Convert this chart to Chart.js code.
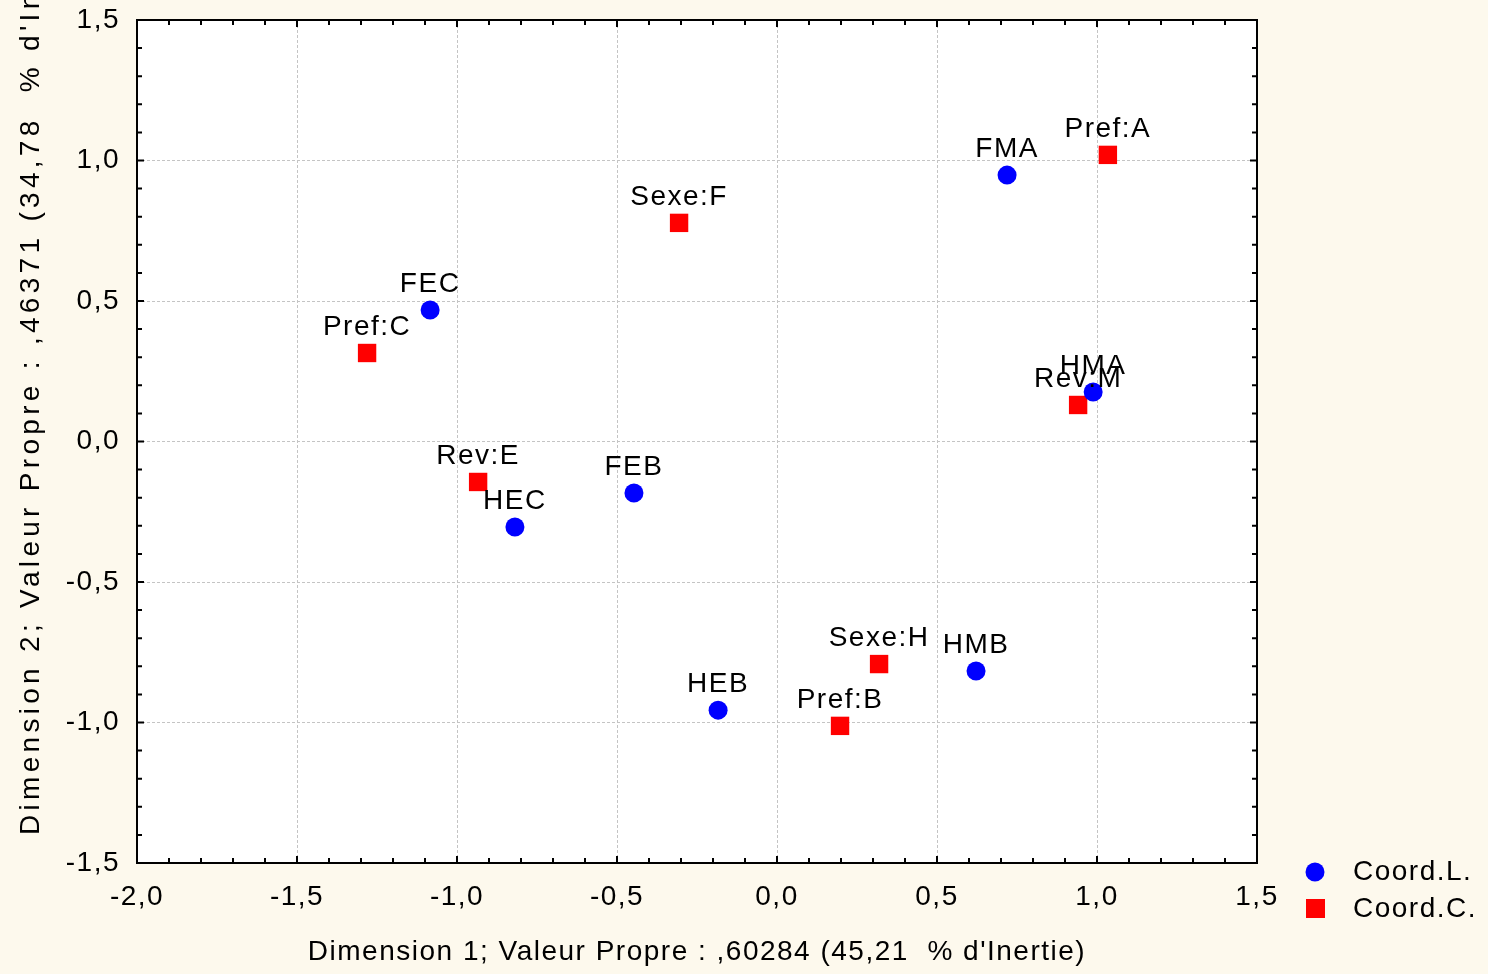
<!DOCTYPE html>
<html>
<head>
<meta charset="utf-8">
<script src="https://cdn.jsdelivr.net/npm/chart.js@4.4.0/dist/chart.umd.min.js"></script>
<style>
  html, body { margin: 0; padding: 0; background: #fdf9ed; }
</style>
</head>
<body>
<canvas id="grafico" width="1488" height="974"></canvas>
<script>
// Coord. lignes (ronds bleus)
const labelsL = ['FMA', 'FEC', 'HMA', 'FEB', 'HEC', 'HMB', 'HEB'];
const dim1L = [0.719, -1.084, 0.988, -0.447, -0.819, 0.622, -0.184];
const dim2L = [0.948, 0.468, 0.176, -0.183, -0.304, -0.817, -0.956];

// Coord. colonnes (carres rouges)
const labelsC = ['Pref:A', 'Sexe:F', 'Pref:C', 'Rev:M', 'Rev:E', 'Sexe:H', 'Pref:B'];
const dim1C = [1.034, -0.306, -1.281, 0.941, -0.934, 0.319, 0.197];
const dim2C = [1.020, 0.778, 0.315, 0.130, -0.144, -0.792, -1.012];

const ticksX = [-2.0, -1.5, -1.0, -0.5, 0.0, 0.5, 1.0, 1.5];
const ticksY = [-1.5, -1.0, -0.5, 0.0, 0.5, 1.0, 1.5];

const titreX = "Dimension 1; Valeur Propre : ,60284 (45,21  % d'Inertie)";
const titreY = "Dimension 2; Valeur Propre : ,46371 (34,78  % d'Inertie)";
const legende = ['Coord.L.', 'Coord.C.'];

const police = 'Liberation Sans, Arial, sans-serif';
Chart.defaults.font.family = police;
Chart.defaults.font.size = 28;
Chart.defaults.color = '#000';

function virgule(v) {
    return v.toFixed(1).replace('.', ',');
}

// fond blanc, cadre, petites graduations, etiquettes, titres, legende
const cadre = {
    id: 'cadre',
    beforeDraw(chart) {
        const ctx = chart.ctx;
        const a = chart.chartArea;
        ctx.save();
        ctx.fillStyle = '#fdf9ed';
        ctx.fillRect(0, 0, chart.width, chart.height);
        ctx.fillStyle = '#ffffff';
        ctx.fillRect(a.left, a.top, a.right - a.left, a.bottom - a.top);
        ctx.restore();
        // texte un peu espace, comme l'original
        ctx.letterSpacing = '1.5px';
    },
    afterDraw(chart) {
        const ctx = chart.ctx;
        const a = chart.chartArea;
        const sx = chart.scales.x;
        const sy = chart.scales.y;
        ctx.save();

        ctx.strokeStyle = '#000';
        ctx.lineWidth = 2;
        ctx.strokeRect(a.left, a.top, a.right - a.left, a.bottom - a.top);

        ctx.lineWidth = 2;
        ctx.beginPath();
        for (let i = -20; i <= 15; i++) {
            const px = sx.getPixelForValue(i / 10);
            const len = (i % 5 === 0) ? 7 : 5;
            ctx.moveTo(px, a.bottom); ctx.lineTo(px, a.bottom - len);
            ctx.moveTo(px, a.top); ctx.lineTo(px, a.top + len);
        }
        for (let j = -15; j <= 15; j++) {
            const py = sy.getPixelForValue(j / 10);
            const len = (j % 5 === 0) ? 7 : 5;
            ctx.moveTo(a.left, py); ctx.lineTo(a.left + len, py);
            ctx.moveTo(a.right, py); ctx.lineTo(a.right - len, py);
        }
        ctx.stroke();

        // etiquettes des points
        ctx.fillStyle = '#000';
        ctx.font = '28px ' + police;
        ctx.letterSpacing = '1.5px';
        ctx.textAlign = 'center';
        ctx.textBaseline = 'alphabetic';
        const noms = [labelsL, labelsC];
        chart.data.datasets.forEach((ds, k) => {
            chart.getDatasetMeta(k).data.forEach((pt, i) => {
                ctx.fillText(noms[k][i], pt.x, pt.y - 18);
            });
        });

        // titres des axes
        ctx.textAlign = 'center';
        ctx.textBaseline = 'middle';
        ctx.fillText(titreX, 697, 952);

        ctx.save();
        ctx.translate(31, 835);
        ctx.rotate(-Math.PI / 2);
        ctx.textAlign = 'left';
        ctx.letterSpacing = '4.3px';
        ctx.fillText(titreY, 0, 0);
        ctx.restore();

        // legende
        ctx.fillStyle = '#0000ff';
        ctx.beginPath();
        ctx.arc(1315, 872, 9.5, 0, Math.PI * 2);
        ctx.fill();
        ctx.fillStyle = '#ff0000';
        ctx.fillRect(1306, 899, 19, 19);
        ctx.fillStyle = '#000';
        ctx.textAlign = 'left';
        ctx.fillText(legende[0], 1353, 872);
        ctx.fillText(legende[1], 1353, 909);

        ctx.restore();
    }
};

const data = {
    datasets: [
        {
            label: legende[0],
            data: dim1L.map((x, i) => ({ x: x, y: dim2L[i] })),
            pointStyle: 'circle',
            pointRadius: 9.5,
            backgroundColor: '#0000ff',
            borderWidth: 0
        },
        {
            label: legende[1],
            data: dim1C.map((x, i) => ({ x: x, y: dim2C[i] })),
            pointStyle: 'rect',
            pointRadius: 13,
            backgroundColor: '#ff0000',
            borderWidth: 0
        }
    ]
};

const config = {
    type: 'scatter',
    data: data,
    options: {
        responsive: false,
        animation: false,
        layout: {
            padding: { left: 0, top: 20, right: 231, bottom: 0 }
        },
        plugins: {
            legend: { display: false },
            tooltip: { enabled: false }
        },
        scales: {
            x: {
                min: -2.0,
                max: 1.5,
                afterBuildTicks: s => { s.ticks = ticksX.map(v => ({ value: v })); },
                afterFit: s => { s.height = 111; },
                ticks: {
                    padding: 17,
                    maxRotation: 0,
                    autoSkip: false,
                    callback: v => virgule(v)
                },
                grid: { color: '#c4c4c4', lineWidth: 1, drawTicks: false },
                border: { display: false, dash: [3, 2] }
            },
            y: {
                min: -1.5,
                max: 1.5,
                afterBuildTicks: s => { s.ticks = ticksY.map(v => ({ value: v })); },
                afterFit: s => {
                    s.width = 137;
                    s.paddingTop = 0;
                    s.paddingBottom = 0;
                },
                ticks: {
                    padding: 17,
                    autoSkip: false,
                    callback: v => virgule(v)
                },
                grid: { color: '#c4c4c4', lineWidth: 1, drawTicks: false },
                border: { display: false, dash: [3, 2] }
            }
        }
    },
    plugins: [cadre]
};

const grafico = new Chart(document.getElementById('grafico'), config);
</script>
</body>
</html>
